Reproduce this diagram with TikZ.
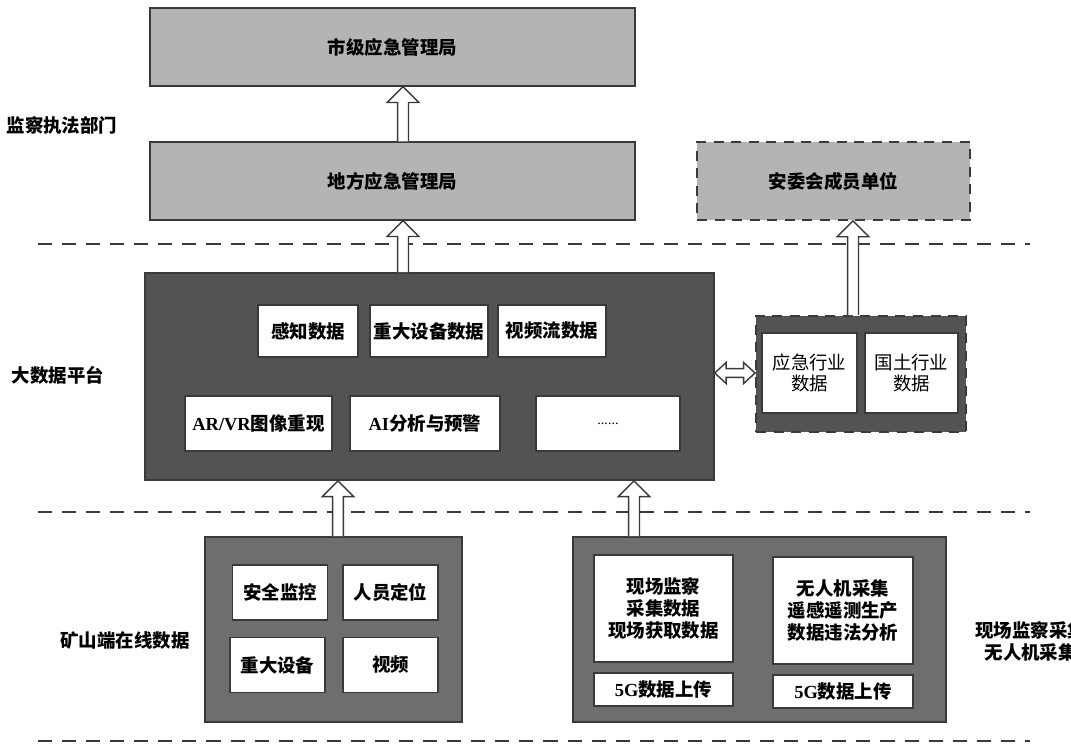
\documentclass[tikz,border=0pt]{standalone}
\usepackage{fontspec}
\setmainfont{Noto Sans CJK SC}
\newfontfamily\lat{Liberation Serif}
\usepackage{tikz}
\usetikzlibrary{calc}

\definecolor{lightbox}{HTML}{B4B4B4}
\definecolor{darkbox}{HTML}{535353}
\definecolor{midbox}{HTML}{6E6E6E}
\definecolor{edge}{HTML}{3A3A3A}

% hollow block arrows, drawn between two points taken from named nodes
\newcommand{\hollowup}[2]{%
  \draw[hollow] let \p1=(#1), \p2=(#2) in
    (\x1-3.1pt,\y1) -- (\x1-3.1pt,\y2-9pt) -- (\x1-9pt,\y2-9pt) -- (\x1,\y2)
    -- (\x1+9pt,\y2-9pt) -- (\x1+3.1pt,\y2-9pt) -- (\x1+3.1pt,\y1);}
\newcommand{\hollowlr}[2]{%
  \draw[hollow] let \p1=(#1), \p2=(#2) in
    (\x1,\y1) -- (\x1+6.5pt,\y1+6pt) -- (\x1+6.5pt,\y1+2.5pt)
    -- (\x2-6.5pt,\y1+2.5pt) -- (\x2-6.5pt,\y1+6pt) -- (\x2,\y1)
    -- (\x2-6.5pt,\y1-6pt) -- (\x2-6.5pt,\y1-2.5pt)
    -- (\x1+6.5pt,\y1-2.5pt) -- (\x1+6.5pt,\y1-6pt) -- cycle;}

\begin{document}
\begin{tikzpicture}[
    x=0.02cm, y=-0.02cm,
    font=\fontsize{10.5}{12.5}\selectfont\bfseries,
    box/.style={draw=edge, line width=0.8pt, inner sep=0pt, align=center, fill=white},
    upper/.style={box, fill=lightbox, minimum width=9.7cm, minimum height=1.56cm},
    member/.style={upper, dash pattern=on 5.7pt off 4.3pt, line width=1.1pt, minimum width=5.46cm},
    platform/.style={box, fill=darkbox, line width=0.9pt},
    group/.style={box, fill=midbox, line width=0.9pt, minimum width=5.14cm, minimum height=3.7cm},
    item/.style={box, minimum width=1.9cm, minimum height=1.1cm},
    tall/.style={box, minimum width=2.78cm, minimum height=2.14cm},
    upload/.style={box, minimum width=2.78cm, minimum height=0.66cm},
    layer/.style={anchor=center, inner sep=0pt},
    sep/.style={draw=edge, line width=1pt, dash pattern=on 8pt off 5.7pt},
    hollow/.style={draw=edge, fill=white, line width=0.8pt, line join=miter},
  ]
  \useasboundingbox (0,0) rectangle (1071,744);

  % ===== layer separators =====
  \draw[sep] (38,244) -- (1030,244);
  \draw[sep] (38,512) -- (1030,512);
  \draw[sep] (38,741) -- (1030,741);

  % ===== top layer: supervision =====
  \node[upper] (city)  at (392.5,47)  {市级应急管理局};
  \node[upper] (local) at (392.5,181) {地方应急管理局};
  \node[member] (member) at (833.5,181) {安委会成员单位};
  \node[layer] (lsuper) at (62,125) {监察执法部门};

  % ===== middle layer: big data platform =====
  \node[platform, minimum width=11.38cm, minimum height=4.14cm] (plat) at (429.5,376.5) {};
  \node[item, minimum width=2.0cm, minimum height=1.04cm]  (sense)  at (308,331) {感知数据};
  \node[item, minimum width=2.36cm, minimum height=1.04cm] (equip)  at (429,331) {重大设备数据};
  \node[item, minimum width=2.16cm, minimum height=1.04cm] (stream) at (552,331) {视频流数据};
  \node[item, minimum width=2.94cm] (arvr) at (258.5,423.5) {{\lat AR/VR}图像重现};
  \node[item, minimum width=3.0cm]  (ai)   at (425,423.5)   {{\lat AI}分析与预警};
  \node[item, minimum width=2.88cm] (more) at (608,423.5)   {\lat\mdseries\footnotesize ......};
  \node[layer] (lplat) at (58,375) {大数据平台};

  % industry data beside the platform
  \node[platform, dash pattern=on 5.7pt off 4.3pt, line width=1.1pt,
        minimum width=4.2cm, minimum height=2.32cm] (ind) at (861,374) {};
  \node[item, minimum width=1.9cm, minimum height=1.6cm, font=\fontsize{10.5}{12}\selectfont\mdseries]
      (emerg) at (809.5,373) {应急行业\\数据};
  \node[item, minimum width=1.86cm, minimum height=1.6cm, font=\fontsize{10.5}{12}\selectfont\mdseries]
      (land) at (911.5,373) {国土行业\\数据};

  % ===== bottom layer: data sources =====
  \node[group] (mine) at (333.5,629.5) {};
  \node[item] (safe)  at (280,592.5)   {安全监控};
  \node[item] (staff) at (390.5,592.5) {人员定位};
  \node[item] (heavy) at (277.5,665)   {重大设备};
  \node[item] (video) at (390.5,665)   {视频};
  \node[layer] (lmine) at (125,640) {矿山端在线数据};

  \node[group, minimum width=7.46cm] (field) at (759.5,629.5) {};
  \node[tall] (site)  at (663.5,608.5) {现场监察\\采集数据\\现场获取数据};
  \node[upload] (up1) at (663.5,689.5) {{\lat 5G}数据上传};
  \node[tall, minimum width=2.8cm] (drone) at (843,610.5) {无人机采集\\遥感遥测生产\\数据违法分析};
  \node[upload, minimum width=2.8cm] (up2) at (843,691.5) {{\lat 5G}数据上传};
  \node[anchor=west, align=center, inner sep=0pt] (lfield) at (975,641) {现场监察采集\\无人机采集};

  % ===== block arrows =====
  \coordinate (ca) at (403,0);
  \coordinate (cb) at (853,0);
  \coordinate (cc) at (338,0);
  \coordinate (cd) at (634,0);
  \hollowup{ca |- local.north}{ca |- city.south}
  \hollowup{ca |- plat.north}{ca |- local.south}
  \hollowup{cb |- ind.north}{cb |- member.south}
  \hollowup{cc |- mine.north}{cc |- plat.south}
  \hollowup{cd |- field.north}{cd |- plat.south}
  \hollowlr{plat.east |- emerg.west}{ind.west |- emerg.west}

\end{tikzpicture}
\end{document}
